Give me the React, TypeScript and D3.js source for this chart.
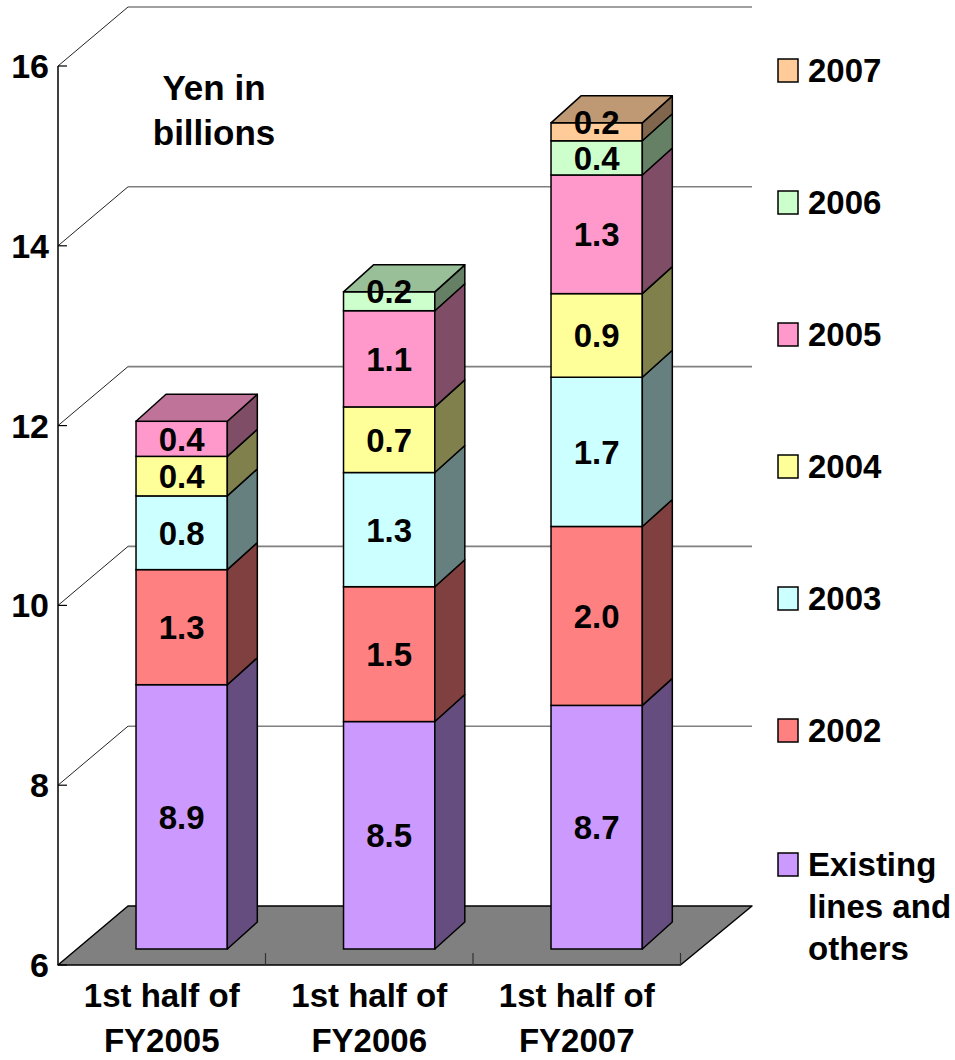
import React from "react";
import * as d3 from "d3";

const categories = ["1st half of FY2005", "1st half of FY2006", "1st half of FY2007"];
const categoryLines = [
  ["1st half of", "FY2005"],
  ["1st half of", "FY2006"],
  ["1st half of", "FY2007"],
];
const seriesNames = ["Existing lines and others", "2002", "2003", "2004", "2005", "2006", "2007"];
const legendLines = [["Existing", "lines and", "others"], ["2002"], ["2003"], ["2004"], ["2005"], ["2006"], ["2007"]];
const existingValues = [8.94, 8.53, 8.71];
const values2002 = [1.28, 1.5, 1.99];
const values2003 = [0.82, 1.27, 1.66];
const values2004 = [0.44, 0.73, 0.93];
const values2005 = [0.39, 1.07, 1.32];
const values2006 = [0, 0.21, 0.38];
const values2007 = [0, 0, 0.2];
const seriesValues = [existingValues, values2002, values2003, values2004, values2005, values2006, values2007];
const seriesColors = ["#CC99FF", "#FF8080", "#CCFFFF", "#FFFF99", "#FF99CC", "#CCFFCC", "#FFCC99"];
const yTicks = [6, 8, 10, 12, 14, 16];
const titleLines = ["Yen in", "billions"];

const FONT = "Arial, 'Liberation Sans', Helvetica, sans-serif";

function shade(c: string, k: number) {
  const r = d3.rgb(c);
  return d3.rgb(r.r * k, r.g * k, r.b * k).formatHex();
}

export default function App() {
  const W = 955, H = 1060;
  const x0 = 58, x1 = 680.5;
  const yMin = 6;
  const yF = d3.scaleLinear().domain([yMin, 16]).range([965, 66]);
  const wallDx = 70, wallDy = -59;
  const band = d3.scaleBand<string>().domain(categories).range([x0, x1]).padding(0);
  const bw = band.bandwidth();
  const barOff = 0.376 * bw;
  const barW = 0.44 * bw;
  const frontDy = -16;
  const bdx = 30, bdy = -27;
  const yB = (v: number) => yF(Math.max(v, yMin)) + frontDy;

  const rows = categories.map((c, i) => {
    const r: any = { cat: c };
    seriesNames.forEach((s, j) => (r[s] = seriesValues[j][i]));
    return r;
  });
  const stacked = d3.stack<any>().keys(seriesNames)(rows);
  const fmt = d3.format(".1f");

  const bars = categories.map((c, i) => {
    const xL = (band(c) as number) + barOff;
    const xR = xL + barW;
    const segs = stacked
      .map((layer, j) => ({ j, lo: layer[i][0], hi: layer[i][1], v: seriesValues[j][i] }))
      .filter((s) => s.v > 0);
    return { c, i, xL, xR, segs };
  });

  const legendBaselines = [876, 742, 610, 478, 346, 214, 82];

  return (
    <svg width={W} height={H} style={{ position: "absolute", left: 0, top: 0, background: "#fff" }} fontFamily={FONT}>
      {/* back wall gridlines */}
      {yTicks.filter((t) => t > yMin).map((t) => (
        <g key={"g" + t}>
          <line x1={x0} y1={yF(t)} x2={x0 + wallDx} y2={yF(t) + wallDy} stroke="#222" strokeWidth={1} />
          <line x1={x0 + wallDx} y1={yF(t) + wallDy} x2={x1 + wallDx + 1.5} y2={yF(t) + wallDy} stroke="#808080" strokeWidth={1.6} />
        </g>
      ))}
      {/* floor */}
      <polygon
        points={[[x0, yF(yMin)], [x0 + wallDx, yF(yMin) + wallDy], [x1 + wallDx + 1.5, yF(yMin) + wallDy], [x1, yF(yMin)]].map((p) => p.join(",")).join(" ")}
        fill="#808080" stroke="#000" strokeWidth={1.5} strokeLinejoin="round"
      />
      {/* x ticks */}
      {categories.map((c) => {
        const xx = (band(c) as number) + bw;
        return <line key={"xt" + c} x1={xx} y1={yF(yMin) - 12} x2={xx} y2={yF(yMin)} stroke="#333" strokeWidth={1.2} />;
      })}
      {/* y axis */}
      <line x1={x0} y1={yF(16)} x2={x0} y2={yF(yMin)} stroke="#000" strokeWidth={1.5} />
      {yTicks.map((t) => (
        <g key={"yt" + t}>
          <line x1={x0} y1={yF(t)} x2={x0 + 9} y2={yF(t)} stroke="#000" strokeWidth={1.2} />
          <text x={49} y={yF(t) + 12} textAnchor="end" fontSize={34} fontWeight="bold">{t}</text>
        </g>
      ))}
      {/* bars */}
      {bars.map((b) => (
        <g key={"b" + b.i}>
          {b.segs.map((s, k) => {
            const yT = yB(s.hi), yBo = yB(s.lo);
            const col = seriesColors[s.j];
            const isTop = k === b.segs.length - 1;
            return (
              <g key={"s" + s.j}>
                <rect x={b.xL} y={yT} width={barW} height={yBo - yT} fill={col} stroke="#000" strokeWidth={1.5} />
                <polygon
                  points={[[b.xR, yBo], [b.xR + bdx, yBo + bdy], [b.xR + bdx, yT + bdy], [b.xR, yT]].map((p) => p.join(",")).join(" ")}
                  fill={shade(col, 0.5)} stroke="#000" strokeWidth={1.5} strokeLinejoin="round"
                />
                {isTop && (
                  <polygon
                    points={[[b.xL, yT], [b.xL + bdx, yT + bdy], [b.xR + bdx, yT + bdy], [b.xR, yT]].map((p) => p.join(",")).join(" ")}
                    fill={shade(col, 0.75)} stroke="#000" strokeWidth={1.5} strokeLinejoin="round"
                  />
                )}
              </g>
            );
          })}
          {b.segs.map((s) => {
            const yT = yB(s.hi), yBo = yB(s.lo);
            const h = yBo - yT;
            const cy = (yT + yBo) / 2 - (h < 22 ? 10 : 0);
            return (
              <text key={"l" + s.j} x={b.xL + barW / 2} y={cy + 12} textAnchor="middle" fontSize={33} fontWeight="bold">
                {fmt(s.v)}
              </text>
            );
          })}
        </g>
      ))}
      {/* category labels */}
      {categories.map((c, i) => (
        <text key={"c" + c} x={(band(c) as number) + bw / 2} textAnchor="middle" fontSize={33} fontWeight="bold">
          {categoryLines[i].map((ln, k) => (
            <tspan key={k} x={(band(c) as number) + bw / 2} y={1007 + k * 45}>{ln}</tspan>
          ))}
        </text>
      ))}
      {/* title */}
      <text textAnchor="middle" fontSize={35} fontWeight="bold">
        {titleLines.map((ln, k) => (
          <tspan key={k} x={214} y={100 + k * 45}>{ln}</tspan>
        ))}
      </text>
      {/* legend */}
      {seriesNames.map((s, j) => {
        const base = legendBaselines[j];
        return (
          <g key={"lg" + s}>
            <rect x={778} y={base - 23} width={20} height={23} fill={seriesColors[j]} stroke="#000" strokeWidth={1.5} />
            <text fontSize={33} fontWeight="bold">
              {legendLines[j].map((ln, k) => (
                <tspan key={k} x={808} y={base + k * 42}>{ln}</tspan>
              ))}
            </text>
          </g>
        );
      })}
    </svg>
  );
}
